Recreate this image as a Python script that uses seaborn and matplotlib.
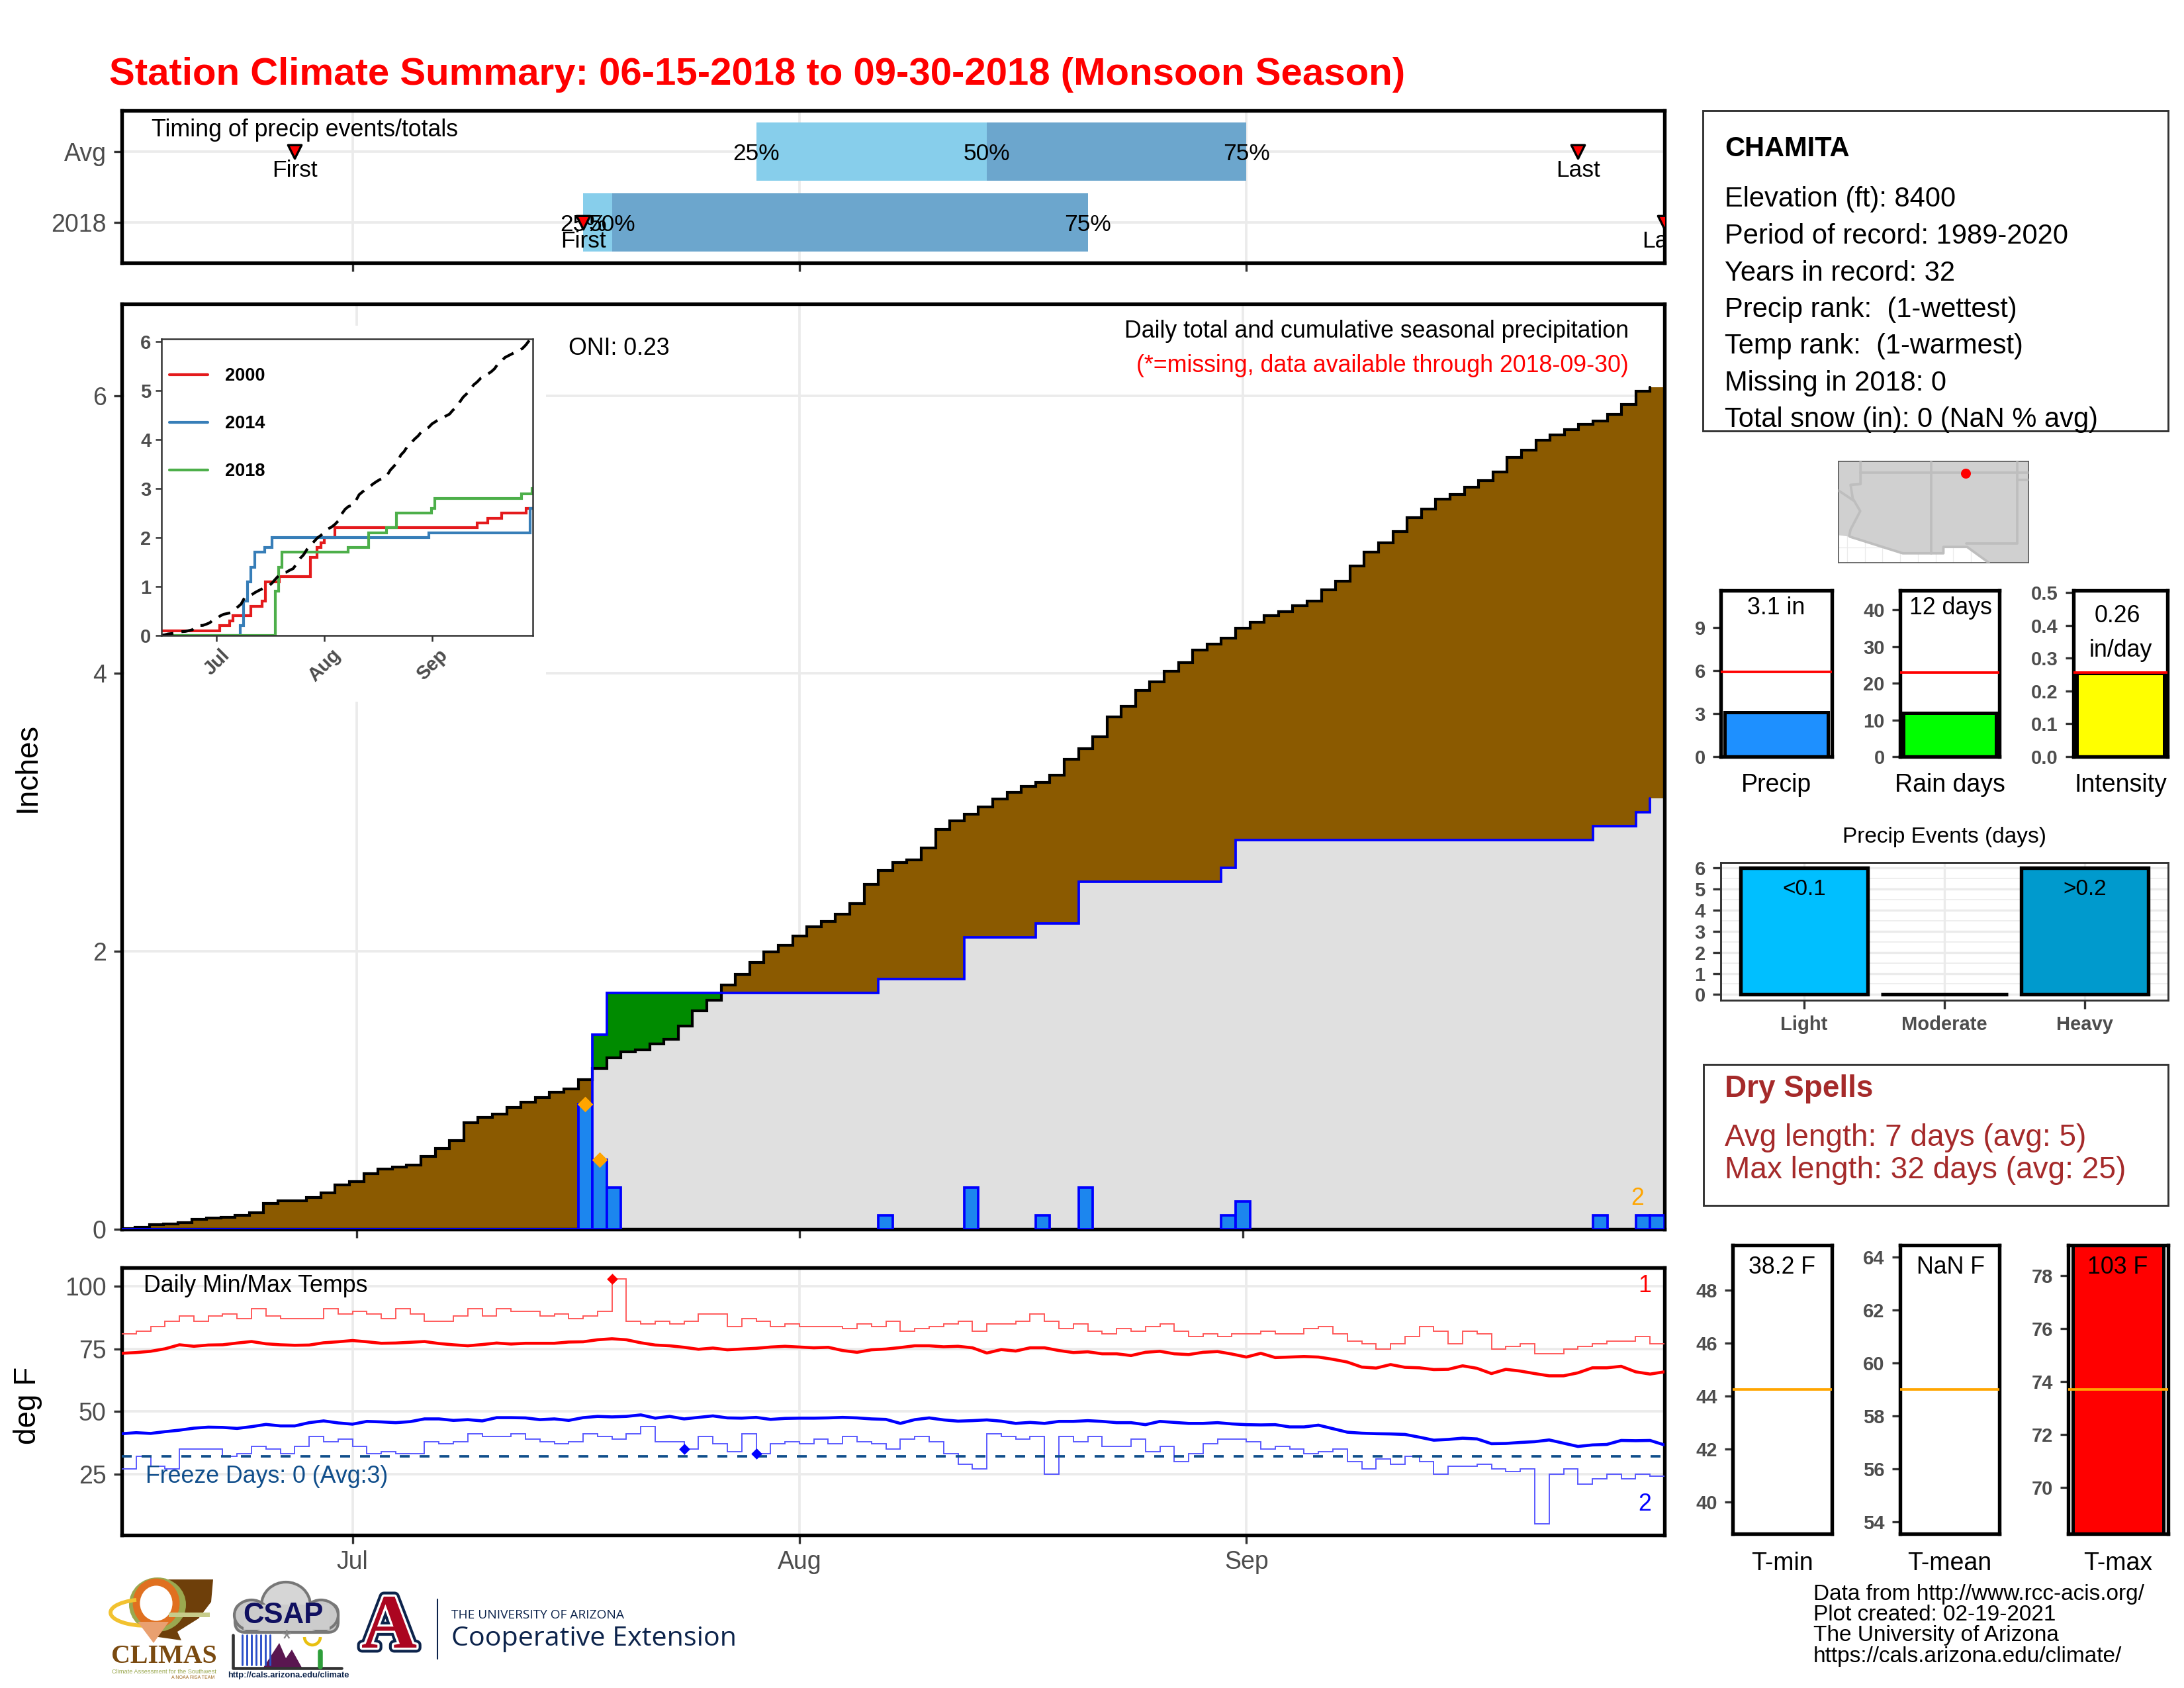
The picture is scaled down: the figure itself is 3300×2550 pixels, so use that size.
import numpy as np
import matplotlib
matplotlib.use("Agg")
import matplotlib.pyplot as plt
import matplotlib.patheffects as pe
from matplotlib.patches import Polygon, Ellipse, Arc, FancyBboxPatch, Rectangle
import seaborn as sns

W, H = 3300, 2550
GRID = "#EBEBEB"
NAVY = "#0C234B"

# timing panel
timing_cats = ["Avg", "2018"]
p25 = [44, 32]
p50 = [60, 34]
p75 = [78, 67]
first_day = [12, 32]
last_day = [101, 107]

# axis
month_days = [16, 47, 78]
month_labels = ["Jul", "Aug", "Sep"]

# average cumulative seasonal precip (inches), Jun 15 - Sep 30
avg_cum = [0.003, 0.013, 0.032, 0.04, 0.05, 0.071, 0.079, 0.084, 0.10, 0.117,
           0.186, 0.203, 0.206, 0.23, 0.26, 0.32, 0.344, 0.40, 0.433, 0.449,
           0.463, 0.524, 0.579, 0.64, 0.768, 0.805, 0.829, 0.876, 0.915, 0.95,
           0.986, 1.011, 1.077, 1.158, 1.235, 1.279, 1.292, 1.333, 1.366, 1.462,
           1.574, 1.648, 1.76, 1.833, 1.918, 1.995, 2.046, 2.109, 2.178, 2.213,
           2.268, 2.342, 2.484, 2.582, 2.639, 2.658, 2.746, 2.877, 2.937, 2.989,
           3.038, 3.096, 3.145, 3.187, 3.217, 3.266, 3.381, 3.457, 3.542, 3.687,
           3.763, 3.876, 3.939, 4.015, 4.079, 4.167, 4.212, 4.252, 4.325, 4.37,
           4.416, 4.443, 4.486, 4.522, 4.604, 4.662, 4.774, 4.874, 4.941, 5.023,
           5.123, 5.181, 5.256, 5.29, 5.341, 5.387, 5.451, 5.554, 5.608, 5.681,
           5.718, 5.754, 5.791, 5.818, 5.863, 5.936, 6.03, 6.058]

# 2018 daily precip
precip_days = [32, 33, 34, 53, 59, 64, 67, 77, 78, 103, 106, 107]
precip_vals = [0.9, 0.5, 0.3, 0.1, 0.3, 0.1, 0.3, 0.1, 0.2, 0.1, 0.1, 0.1]
record_days = [32, 33]
record_vals = [0.9, 0.5]

# inset years, (day the total changes, total)
y2000_days = [0, 16.8, 19.8, 20.7, 25.9, 29.1, 30, 34.1, 43, 44.9, 46, 47, 50, 90.9, 94, 98, 105.1, 107]
y2000_vals = [0.1, 0.2, 0.3, 0.4, 0.6, 0.7, 1.1, 1.2, 1.6, 1.8, 1.9, 2.0, 2.2, 2.3, 2.4, 2.5, 2.6, 2.6]
y2014_days = [0, 22.8, 23.7, 24.8, 25.9, 26.9, 29.9, 31.9, 77, 106.2, 107]
y2014_vals = [0, 0.2, 0.7, 1.1, 1.4, 1.7, 1.8, 2.0, 2.1, 2.6, 2.6]

# daily temps
tmax = [81, 82, 84, 86, 88, 86, 88, 89, 87, 91, 88, 87, 87, 87, 91, 89, 90, 89, 87, 91,
        89, 86, 86, 88, 91, 88, 91, 90, 90, 88, 89, 87, 88, 90, 103, 86, 85, 86, 85, 86,
        89, 89, 84, 87, 86, 84, 85, 84, 84, 84, 83, 85, 84, 86, 82, 83, 84, 85, 86, 82,
        85, 85, 86, 89, 86, 83, 85, 82, 81, 83, 82, 84, 85, 82, 80, 81, 80, 81, 81, 82,
        81, 81, 83, 84, 81, 78, 77, 75, 77, 80, 84, 82, 77, 82, 81, 75, 76, 77, 73, 73,
        75, 76, 77, 78, 78, 80, 77, 77]
tmin = [27, 32, 28, 27, 35, 35, 35, 32, 33, 36, 35, 33, 36, 40, 38, 39, 36, 33, 34, 33,
        33, 38, 37, 38, 41, 40, 40, 41, 39, 38, 37, 38, 41, 40, 39, 41, 44, 38, 38, 35,
        40, 37, 34, 41, 33, 37, 38, 37, 39, 37, 40, 38, 37, 35, 39, 40, 38, 33, 29, 27,
        41, 40, 39, 40, 25, 40, 38, 40, 36, 36, 39, 34, 36, 30, 33, 37, 39, 39, 38, 35,
        36, 35, 33, 34, 35, 30, 27, 31, 29, 32, 30, 25, 28, 28, 29, 27, 26, 27, 5, 25,
        27, 21, 23, 25, 23, 25, 24, 24]
tmax_avg = [73.2, 73.5, 74, 75, 76.6, 76, 76.5, 76.6, 77.3, 77.9, 77, 76.6, 76.4, 76.5, 77.4, 77.8,
            78.3, 77.8, 77.2, 77.3, 77.6, 77.9, 77.1, 76.6, 76.2, 76.7, 77.3, 76.9, 77.2, 77.2,
            77.2, 77.7, 77.8, 78.6, 79, 78.6, 77.4, 76.5, 76.2, 75.6, 74.8, 75.3, 74.6, 74.9,
            75.2, 75.7, 76, 75.7, 75.4, 75.6, 74.3, 73.6, 74.6, 74.9, 75.5, 76.2, 76.2, 75.8,
            76, 75.4, 73.3, 74.7, 74.1, 75.4, 75.4, 74.3, 73.5, 73.8, 73, 73, 72.3, 73.6, 74,
            73, 72.7, 73.6, 73.9, 72.9, 71.7, 73.2, 71.5, 71.7, 71.9, 71.7, 70.8, 69.7, 67.7,
            67.3, 68.7, 67.6, 67.4, 66.7, 66.8, 68.2, 67.2, 65.1, 66.8, 66.1, 65.1, 64.2, 64.2,
            65.4, 67.4, 67.4, 68, 65.8, 64.9, 65.8]
tmin_avg = [41.1, 41.5, 41.2, 41.9, 42.5, 43.3, 43.7, 43.6, 43.2, 43.9, 44.8, 44.2, 44.2, 45.5, 46.2,
            45.4, 44.9, 46, 45.8, 45.5, 45.9, 47, 47, 46.4, 46.7, 46.2, 47.5, 47.5, 47.4, 46.7, 47,
            46.4, 47.5, 48, 47.8, 48, 48.6, 47.3, 48, 47, 47.6, 48.2, 47.4, 47.3, 47.6, 46.8, 47.2,
            47.3, 47.3, 47.4, 47.6, 47.4, 47, 46.8, 45.2, 46.7, 47.4, 46.6, 46.1, 46.3, 46.6, 46.1,
            45.2, 45.6, 45.2, 46, 46, 46.3, 46, 45.5, 45.5, 44.7, 46, 45.6, 45.2, 45.2, 45.5, 45,
            44.7, 44.6, 44.7, 43.8, 43.8, 44.5, 43.1, 41.7, 41.3, 41.1, 41, 40.8, 39.7, 38.5, 38.8,
            39.3, 39, 37.1, 37.2, 37.6, 37.9, 38.6, 37.3, 36, 36.6, 36.8, 38.4, 38.3, 38.4, 36.6]
freeze_line = 32
tmax_rec_days = [34]
tmax_rec_vals = [103]
tmin_rec_days = [39, 44]
tmin_rec_vals = [35, 33]

# small summary panels
total_labels = ["Precip", "Rain days", "Intensity"]
total_vals = [3.1, 12, 0.255]
total_avgs = [5.9, 23, 0.257]
total_colors = ["#1E90FF", "#00FF00", "#FFFF00"]
event_cats = ["Light", "Moderate", "Heavy"]
event_vals = [6, 0, 6]
temp_labels = ["T-min", "T-mean", "T-max"]
temp_vals = [38.2, np.nan, 103]
temp_avgs = [44.25, 59.0, 73.7]

# locator map, lon/lat
us_lon = [-115.6, -102.2, -102.2, -105.0, -106.53, -108.2, -108.2, -111.07, -114.8, -115.6]
us_lat = [37.8, 37.8, 30.67, 30.67, 31.78, 31.78, 31.33, 31.33, 32.5, 32.6]
az_west_lon = [-114.05, -114.05, -114.75, -114.6, -114.07, -114.75, -114.85]
az_west_lat = [37.8, 36.2, 36.15, 35.2, 34.3, 33.0, 32.55]
nv_lon = [-115.6, -114.55]
nv_lat = [35.75, 35.05]
n37_lon = [-114.05, -102.2]
n37_lat = [37.0, 37.0]
w109_lon = [-109.05, -109.05]
w109_lat = [37.8, 31.33]
nm_east_lon = [-103.0, -103.0, -106.6]
nm_east_lat = [37.8, 32.0, 32.0]
ok_lon = [-103.0, -102.2]
ok_lat = [36.5, 36.5]
station_lon = [-106.65]
station_lat = [36.95]

days = np.arange(108)
avg_cum = np.array(avg_cum)
precip_daily = np.zeros(108)
precip_daily[precip_days] = precip_vals
obs_cum = np.cumsum(precip_daily)

sns.set_theme(style="white", rc={"axes.edgecolor": "black", "xtick.bottom": True, "ytick.left": True})
plt.rcParams["font.family"] = ["Liberation Sans", "DejaVu Sans"]

fig = plt.figure(figsize=(11, 8.5), dpi=300, facecolor="white")


def panel(left, top, right, bottom, **kw):
    return fig.add_axes([left / W, 1 - bottom / H, (right - left) / W, (bottom - top) / H], **kw)


def style(ax, lw=1.3, edge="black", size=9, bold=False):
    for s in ax.spines.values():
        s.set_linewidth(lw)
        s.set_edgecolor(edge)
        s.set_visible(True)
    ax.tick_params(length=3.0, width=0.8, color="#333333", labelcolor="#4D4D4D", labelsize=size, pad=2.6)
    if bold:
        for t in ax.get_xticklabels() + ax.get_yticklabels():
            t.set_fontweight("bold")
    ax.set_axisbelow(True)


def step(ax, x, y, color, lw, **kw):
    sns.lineplot(x=x, y=y, drawstyle="steps-post", color=color, lw=lw, ax=ax,
                 estimator=None, sort=False, solid_joinstyle="miter", **kw)


# === timing panel ===
ax = panel(184, 167, 2515, 397)
y_pos = np.arange(len(timing_cats))
for i in y_pos:
    ax.barh(i, p50[i] - p25[i], left=p25[i], height=0.82, color="#87CEEB", lw=0, zorder=2)
    ax.barh(i, p75[i] - p50[i], left=p50[i], height=0.82, color="#6CA6CD", lw=0, zorder=2)
    for val, lab in zip((p25[i], p50[i], p75[i]), ("25%", "50%", "75%")):
        ax.text(val, i + 0.03, lab, ha="center", va="center", fontsize=8.5, color="black", zorder=5)
    ax.text(first_day[i], i + 0.27, "First", ha="center", va="center", fontsize=8.5, color="black", zorder=5, clip_on=True)
    ax.text(last_day[i], i + 0.27, "Last", ha="center", va="center", fontsize=8.5, color="black", zorder=5, clip_on=True)
sns.scatterplot(x=first_day + last_day, y=[0, 1, 0, 1], marker="v", s=24, color="red",
                edgecolor="black", linewidth=0.8, zorder=6, ax=ax, clip_on=True)
ax.set_xlim(0, 107)
ax.set_ylim(1.57, -0.58)
ax.set_yticks(y_pos, timing_cats)
ax.set_xticks(month_days, [""] * 3)
ax.grid(True, color=GRID, lw=0.9)
ax.set_xlabel("")
ax.set_ylabel("")
style(ax)

# === main precip panel ===
ax = panel(184, 459, 2515, 1857)
edges = np.arange(-0.5, 108.5)
avg_e = np.append(avg_cum, avg_cum[-1])
obs_e = np.append(obs_cum, obs_cum[-1])
ax.fill_between(edges, 0, avg_e, step="post", color="#8B5A00", lw=0, zorder=2)
ax.fill_between(edges, avg_e, np.maximum(avg_e, obs_e), step="post", color="#008B00", lw=0, zorder=2)
ax.fill_between(edges, 0, np.minimum(avg_e, obs_e), step="post", color="#E0E0E0", lw=0, zorder=2)
step(ax, days - 0.5, avg_cum, "black", 1.0, zorder=3)
step(ax, days - 0.5, obs_cum, "blue", 0.9, zorder=4)
ax.bar(precip_days, precip_vals, width=1, color="#1C86EE", edgecolor="blue", linewidth=0.9, zorder=4)
sns.scatterplot(x=record_days, y=record_vals, marker="D", s=16, color="orange", lw=0, zorder=6, ax=ax)
ax.set_xlim(-0.43, 107.5)
ax.set_ylim(0, 6.66)
ax.set_xticks(month_days, [""] * 3)
ax.set_yticks([0, 2, 4, 6])
ax.grid(True, color=GRID, lw=0.9)
ax.set_ylabel("")
style(ax)

# white block behind the inset
bg = panel(188, 492, 825, 1060, zorder=3)
bg.axis("off")
bg.add_patch(Rectangle((0, 0), 1, 1, transform=bg.transAxes, color="white", lw=0))

ins = panel(244, 512, 805, 960, zorder=4)
step(ins, np.array(y2000_days), y2000_vals, "#E41A1C", 1.0, label="2000")
step(ins, np.array(y2014_days), y2014_vals, "#377EB8", 1.0, label="2014")
step(ins, days + 0.8, obs_cum, "#4DAF4A", 1.0, label="2018")
sns.lineplot(x=days, y=avg_cum, color="black", lw=1.0, linestyle=(0, (4.5, 3)), ax=ins)
ins.set_xlim(0.1, 107)
ins.set_ylim(0, 6.06)
ins.set_xticks(month_days, month_labels, rotation=45)
ins.set_yticks(range(7))
ins.set_xlabel("")
ins.set_ylabel("")
style(ins, lw=0.6, edge="#333333", size=7, bold=True)
ins.tick_params(length=2.2, width=0.6, pad=1.5)
leg = ins.legend(loc="upper left", bbox_to_anchor=(0.007, 0.922), frameon=False, fontsize=6.5,
                 labelspacing=1.7, handlelength=2.15, handletextpad=0.95, borderaxespad=0.3, borderpad=0)
for t in leg.get_texts():
    t.set_fontweight("bold")
    t.set_color("black")

# === daily temps panel ===
ax = panel(184, 1915, 2515, 2319)
step(ax, days, tmax, "#FF5555", 0.45, zorder=3)
step(ax, days, tmin, "#5555FF", 0.45, zorder=3)
sns.lineplot(x=days, y=tmax_avg, color="red", lw=1.1, ax=ax, zorder=4)
sns.lineplot(x=days, y=tmin_avg, color="blue", lw=1.1, ax=ax, zorder=4)
ax.axhline(freeze_line, color="#104E8B", lw=0.9, linestyle=(0, (4, 4)), zorder=4)
sns.scatterplot(x=tmax_rec_days, y=tmax_rec_vals, marker="D", s=8, color="red", lw=0, zorder=6, ax=ax)
sns.scatterplot(x=tmin_rec_days, y=tmin_rec_vals, marker="D", s=8, color="blue", lw=0, zorder=6, ax=ax)
ax.set_xlim(0, 107)
ax.set_ylim(0.6, 107.4)
ax.set_xticks(month_days, month_labels)
ax.set_yticks([25, 50, 75, 100])
ax.grid(True, color=GRID, lw=0.9)
ax.set_ylabel("")
style(ax)
ax.tick_params(axis="x", pad=2.6)

# === seasonal totals ===
total_boxes = [(2600, 2768), (2871, 3021), (3133, 3275)]
total_tops = [11.6, 45.3, 0.507]
total_ticks = [[0, 3, 6, 9], [0, 10, 20, 30, 40], [0.0, 0.1, 0.2, 0.3, 0.4, 0.5]]
for i, (l, r) in enumerate(total_boxes):
    ax = panel(l, 892, r, 1143)
    sns.barplot(x=[total_labels[i]], y=[total_vals[i]], color=total_colors[i], saturation=1,
                width=0.93, edgecolor="black", linewidth=1.2, ax=ax)
    ax.axhline(total_avgs[i], color="red", lw=0.9, zorder=5)
    ax.set_xlim(-0.5, 0.5)
    ax.set_ylim(0, total_tops[i])
    ax.set_yticks(total_ticks[i])
    ax.tick_params(axis="x", length=0)
    ax.set_xticks([])
    ax.set_ylabel("")
    ax.set_xlabel(total_labels[i], fontsize=9, color="black", labelpad=6)
    style(ax, lw=1.3, size=7, bold=True)
ax.set_yticklabels([f"{v:.1f}" for v in total_ticks[2]], fontweight="bold")

# === precip events ===
ax = panel(2600, 1303, 3276, 1511)
sns.barplot(x=event_cats, y=event_vals, hue=event_cats, palette=["#00BFFF", "#00BFFF", "#009ACD"],
            saturation=1, width=0.907, edgecolor="black", linewidth=1.3, legend=False, ax=ax)
ax.set_xlim(-0.594, 2.594)
ax.set_ylim(-0.27, 6.26)
ax.set_yticks(range(7))
ax.set_yticks(np.arange(0.5, 6.5, 1), minor=True)
ax.grid(True, which="major", color=GRID, lw=0.8)
ax.grid(True, which="minor", axis="y", color=GRID, lw=0.4)
ax.set_ylabel("")
style(ax, lw=0.7, edge="#333333", size=7, bold=True)
ax.tick_params(which="minor", length=0)

# === temperature panels ===
temp_boxes = [(2618, 2768), (2871, 3021), (3125, 3276)]
temp_lims = [(38.8, 49.69), (53.56, 64.46), (68.26, 79.16)]
temp_ticks = [[40, 42, 44, 46, 48], [54, 56, 58, 60, 62, 64], [70, 72, 74, 76, 78]]
for i, (l, r) in enumerate(temp_boxes):
    ax = panel(l, 1881, r, 2317)
    sns.barplot(x=[temp_labels[i]], y=[temp_vals[i]], color="red", saturation=1, width=0.91,
                edgecolor="black", linewidth=1.2, ax=ax)
    ax.axhline(temp_avgs[i], color="orange", lw=0.9, zorder=5)
    ax.set_xlim(-0.5, 0.5)
    ax.set_ylim(*temp_lims[i])
    ax.set_yticks(temp_ticks[i])
    ax.set_xticks([])
    ax.set_ylabel("")
    ax.set_xlabel(temp_labels[i], fontsize=9, color="black", labelpad=6.5)
    style(ax, lw=1.3, size=7, bold=True)

# === locator map ===
ax = panel(2778, 697, 3065, 850)
ax.set_xticks(np.arange(-115, -102, 1.25))
ax.set_yticks(np.arange(30.5, 38, 1.25))
ax.grid(True, color=GRID, lw=0.3)
ax.tick_params(length=0, labelbottom=False, labelleft=False)
ax.add_patch(Polygon(np.column_stack([us_lon, us_lat]), closed=True, color="#D0D0D0", lw=0, zorder=2))
for xs, ys in [(az_west_lon, az_west_lat), (nv_lon, nv_lat), (n37_lon, n37_lat), (w109_lon, w109_lat),
               (nm_east_lon, nm_east_lat), (ok_lon, ok_lat), (us_lon[3:9], us_lat[3:9])]:
    ax.plot(xs, ys, color="#BEBEBE", lw=0.9, zorder=3)
sns.scatterplot(x=station_lon, y=station_lat, color="red", s=13, lw=0, zorder=5, ax=ax)
ax.set_xlim(-115.6, -102.2)
ax.set_ylim(30.67, 37.8)
ax.set_xlabel("")
ax.set_ylabel("")
for s in ax.spines.values():
    s.set_linewidth(0.4)
    s.set_edgecolor("#555555")
    s.set_visible(True)

# === overlay in picture pixels: text boxes and logos ===
ov = fig.add_axes([0, 0, 1, 1], zorder=20)
ov.set_xlim(0, W)
ov.set_ylim(H, 0)
ov.axis("off")


def put(x, y, s, size=8.6, color="black", ha="left", **kw):
    # va center sits a little high for this font
    return ov.text(x, y + 3, s, fontsize=size, color=color, ha=ha, va="center", **kw)


put(165, 110, "Station Climate Summary: 06-15-2018 to 09-30-2018 (Monsoon Season)", 13.95, "red", weight="bold")
put(229, 193, "Timing of precip events/totals")
put(42, 1156, "Inches", 11, ha="center", rotation=90)
put(42, 2120, "deg F", 11, ha="center", rotation=90)
put(859, 523, "ONI: 0.23")
put(2461, 497, "Daily total and cumulative seasonal precipitation", ha="right")
put(2461, 549, "(*=missing, data available through 2018-09-30)", color="red", ha="right")
put(2474, 1807, "2", color="orange", ha="center")
put(217, 1940, "Daily Min/Max Temps")
put(220, 2228, "Freeze Days: 0 (Avg:3)", color="#104E8B")
put(2485, 1940, "1", color="red", ha="center")
put(2485, 2270, "2", color="blue", ha="center")

# station box
ov.add_patch(Rectangle((2573, 167), 703, 484, fill=False, ec="#333333", lw=0.7))
put(2606, 222, "CHAMITA", 10, weight="bold")
station_lines = ["Elevation (ft): 8400", "Period of record: 1989-2020", "Years in record: 32",
                 "Precip rank:  (1-wettest)", "Temp rank:  (1-warmest)", "Missing in 2018: 0",
                 "Total snow (in): 0 (NaN % avg)"]
for y, line in zip([298, 354, 410, 465, 520, 576, 631], station_lines):
    put(2606, y, line, 10)

put(2684, 915, "3.1 in", ha="center")
put(2947, 915, "12 days", ha="center")
put(3199, 928, "0.26", ha="center")
put(3204, 980, "in/day", ha="center")

put(2938, 1261, "Precip Events (days)", 8, ha="center")
put(2726, 1340, "<0.1", 8, ha="center")
put(3150, 1340, ">0.2", 8, ha="center")

# dry spells box
ov.add_patch(Rectangle((2574, 1608), 702, 213, fill=False, ec="#333333", lw=0.7))
put(2606, 1642, "Dry Spells", 11, "#A52A2A", weight="bold")
put(2606, 1716, "Avg length: 7 days (avg: 5)", 11.05, "#A52A2A")
put(2606, 1765, "Max length: 32 days (avg: 25)", 11.05, "#A52A2A")

put(2692, 1912, "38.2 F", ha="center")
put(2947, 1912, "NaN F", ha="center")
put(3200, 1912, "103 F", ha="center")

credit_lines = ["Data from http://www.rcc-acis.org/", "Plot created: 02-19-2021",
                "The University of Arizona", "https://cals.arizona.edu/climate/"]
for y, line in zip([2405, 2436, 2468, 2500], credit_lines):
    put(2740, y, line, 8)

# CLIMAS logo
ov.add_patch(Polygon([(249, 2386), (322, 2386), (319, 2420), (300, 2445), (268, 2465), (274, 2478),
                      (232, 2472), (205, 2440), (215, 2400)], closed=True, color="#6E3F0A", lw=0))
ov.add_patch(Ellipse((238, 2424), 76, 72, fc="none", ec="#9AA84F", lw=2.4))
ov.add_patch(Ellipse((236, 2422), 60, 64, fc="white", ec="#E07020", lw=2.6))
ov.add_patch(Arc((222, 2436), 110, 40, theta1=60, theta2=230, color="#F2C230", lw=1.4))
ov.add_patch(Rectangle((255, 2436), 62, 7, color="#C7CC8A", lw=0))
ov.add_patch(Polygon([(208, 2450), (255, 2450), (232, 2482)], closed=True, color="#E9A070", lw=0))
put(248, 2499, "CLIMAS", 9.6, "#7A4A10", ha="center", family="Liberation Serif", weight="bold")
put(248, 2522, "Climate Assessment for the Southwest", 2.2, "#9AA84F", ha="center")
put(292, 2531, "A NOAA RISA TEAM", 1.7, "#A06A20", ha="center")

# CSAP logo
ov.add_patch(FancyBboxPatch((358, 2425), 150, 38, boxstyle="round,pad=3,rounding_size=16", fc="#C9C9C9", ec="#777777", lw=1))
ov.add_patch(Ellipse((432, 2425), 74, 70, fc="#D6D6D6", ec="#777777", lw=1))
ov.add_patch(Ellipse((380, 2440), 52, 46, fc="#C9C9C9", ec="#777777", lw=1))
ov.add_patch(Ellipse((485, 2440), 52, 46, fc="#C9C9C9", ec="#777777", lw=1))
ov.add_patch(Rectangle((368, 2424), 130, 38, color="#CCCCCC", lw=0))
put(428, 2438, "CSAP", 10.5, "#101060", ha="center", weight="bold")
for x in [366, 373, 380, 387, 394, 401, 408]:
    ov.plot([x, x], [2470, 2515], color="#2C50C8", lw=0.7)
ov.add_patch(Polygon([(398, 2519), (422, 2482), (432, 2505), (441, 2492), (456, 2519)], closed=True, color="#5A1650", lw=0))
ov.plot([352, 352, 516], [2470, 2520, 2520], color="#333333", lw=1.1)
put(433, 2475, "*", 9, "#888888", ha="center")
ov.add_patch(Arc((472, 2473), 24, 24, theta1=0, theta2=180, color="#E8C010", lw=1.1))
ov.plot([484, 484], [2495, 2518], color="#2E9E3A", lw=1.8)
put(436, 2528, "http://cals.arizona.edu/climate", 3.1, NAVY, ha="center", weight="bold")

# UA logo
put(588, 2458, "A", 28, "#AB0520", ha="center", family="Liberation Serif", weight="bold",
    path_effects=[pe.withStroke(linewidth=3.6, foreground=NAVY), pe.withStroke(linewidth=1.6, foreground="white")])
ov.plot([661, 661], [2416, 2506], color=NAVY, lw=0.5)
put(682, 2437, "THE UNIVERSITY OF ARIZONA", 4.6, NAVY, family="Open Sans")
put(682, 2473, "Cooperative Extension", 9.9, NAVY, family="Open Sans")

plt.savefig("out.png", dpi=300)
